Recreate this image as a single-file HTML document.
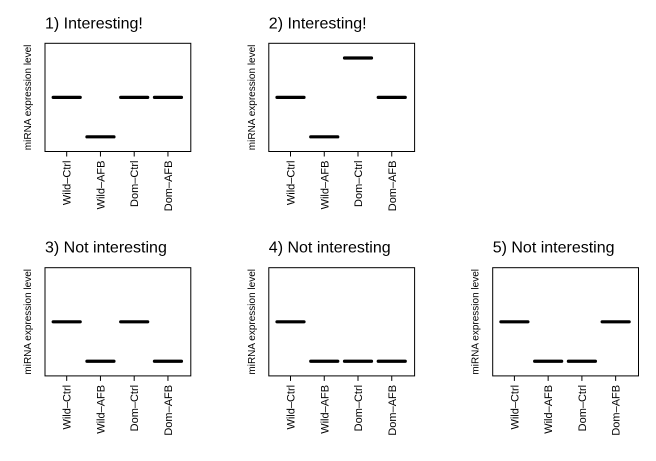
<!DOCTYPE html>
<html><head><meta charset="utf-8"><style>
html,body{margin:0;padding:0;background:#fff;}
svg{display:block;font-family:"Liberation Sans",Arial,sans-serif;}
</style></head><body>
<svg id="c" width="656" height="461" viewBox="0 0 656 461"></svg>
<script>
const categories = ["Wild\u2013Ctrl","Wild\u2013AFB","Dom\u2013Ctrl","Dom\u2013AFB"];
const titles = ["1) Interesting!","2) Interesting!","3) Not interesting","4) Not interesting","5) Not interesting"];
const panel1 = [2,1,2,2];
const panel2 = [2,1,3,2];
const panel3 = [2,1,2,1];
const panel4 = [2,1,1,1];
const panel5 = [2,1,1,2];
const panelValues = [panel1,panel2,panel3,panel4,panel5];
const yMin = 0.628, yMax = 3.372;

const NS = "http://www.w3.org/2000/svg";
const svg = document.getElementById("c");
function mk(tag, attrs, parent){
  const e = document.createElementNS(NS, tag);
  for (const k in attrs) e.setAttribute(k, attrs[k]);
  (parent||svg).appendChild(e);
  return e;
}
const colX = [45, 268.8, 492.7];
const rowY = [43.3, 267.7];
const W = 145.8, H = 108.2;
panelValues.forEach((vals, p) => {
  const left = colX[p < 2 ? p : p - 2];
  const top = rowY[p < 2 ? 0 : 1];
  const g = mk("g", {});
  
  
  const xs = i => left + 21.7 + i * 33.75;
  const ys = v => top + H - (v - yMin) / (yMax - yMin) * H;
  const t = mk("text", {x:left, y:top-15, "font-size":"16"}, g);
  t.textContent = titles[p];
  
  
  const yl = mk("text", {x:0, y:0, "font-size":"10", "text-anchor":"middle",
    transform:`translate(${left-14},${top+H/2}) rotate(-90)`}, g);
  yl.textContent = "miRNA expression level";
  
  
  const box = mk("rect", {x:left, y:top, width:W, height:H, fill:"none", stroke:"#000", "stroke-width":"1"}, g);
  
  
  categories.forEach((c, i) => {
    const x = xs(i);
    const tk = mk("line", {x1:x, x2:x, y1:top+H, y2:top+H+5, stroke:"#000"}, g);
    
    
    const lb = mk("text", {x:0, y:0, "font-size":"11", "text-anchor":"end",
      transform:`translate(${x+4},${top+H+9}) rotate(-90)`}, g);
    lb.textContent = c;
    
    
    const y = ys(vals[i]);
    const seg = mk("line", {x1:x-13.5, x2:x+13.5, y1:y, y2:y, stroke:"#000", "stroke-width":"3.2", "stroke-linecap":"round"}, g);
    
    
  });
});
</script>
</body></html>
